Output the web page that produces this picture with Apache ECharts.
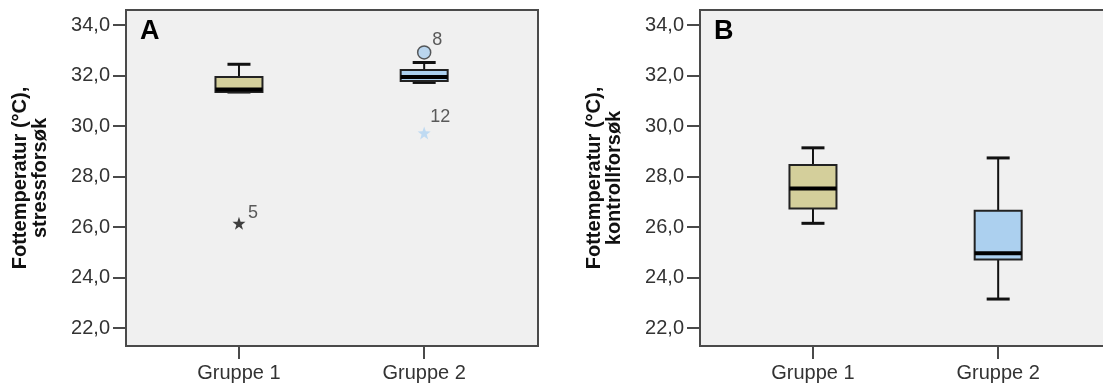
<!DOCTYPE html>
<html>
<head>
<meta charset="utf-8">
<script src="https://cdn.jsdelivr.net/npm/echarts@6/dist/echarts.min.js"></script>
<style>
  html, body { margin: 0; padding: 0; background: #ffffff; }
  #chart { width: 1103px; height: 392px; }
</style>
</head>
<body>
<div id="chart"></div>
<script>
// Groups shown on both panels
const groups = ['Gruppe 1', 'Gruppe 2'];
const yTicks = [22, 24, 26, 28, 30, 32, 34];

// Box statistics per group: [min whisker, Q1, median, Q3, max whisker]
const stressBox = [
  [31.35, 31.35, 31.45, 31.95, 32.45],
  [31.73, 31.79, 31.95, 32.22, 32.52]
];
const controlBox = [
  [26.15, 26.74, 27.53, 28.46, 29.14],
  [23.15, 24.72, 24.96, 26.65, 28.74]
];

// Outlying cases in the stress test: [group index (1-based), value, case number, kind]
const stressOutliers = [
  [1, 26.15, '5', 'extreme'],
  [2, 32.92, '8', 'outlier'],
  [2, 29.73, '12', 'extreme']
];

const panelLetters = ['A', 'B'];
const yTitles = ['Fottemperatur (°C),\nstressforsøk', 'Fottemperatur (°C),\nkontrollforsøk'];

const boxColors = ['#d4cf9b', '#acd0ef'];
const frameColor = '#4a4a4a';
const textColor = '#333333';
const font = 'Liberation Sans, Arial, sans-serif';

const STAR = 'path://M0,-10 L2.35,-3.24 L9.51,-3.09 L3.8,1.24 L5.88,8.09 L0,4 L-5.88,8.09 L-3.8,1.24 L-9.51,-3.09 L-2.35,-3.24 Z';

// Horizontal scale shared by both panels: 185.2 px per group step
const PX_PER_GROUP = 185.2;
const X_MIN = 0.39;
// Panel B runs past the right edge of the page, so its right frame line is not seen
const panels = [
  { left: 126, width: 412 },
  { left: 700, width: 412 }
];

function makeGrid(p) {
  return {
    left: p.left, top: 10, width: p.width, height: 336,
    show: true, backgroundColor: '#f0f0f0',
    borderColor: frameColor, borderWidth: 2,
    outerBoundsMode: 'none', containLabel: false
  };
}

function makeXAxis(gi) {
  return {
    type: 'value', gridIndex: gi, min: X_MIN, max: X_MIN + panels[gi].width / PX_PER_GROUP,
    splitLine: { show: false },
    axisLine: { show: false },
    axisTick: { show: true, customValues: [1, 2], length: 13, lineStyle: { color: frameColor, width: 2 } },
    axisLabel: {
      customValues: [1, 2], margin: 17,
      color: textColor, fontSize: 20, fontFamily: font,
      formatter: v => groups[Math.round(v) - 1] || ''
    }
  };
}

function makeYAxis(gi) {
  return {
    type: 'value', gridIndex: gi, min: 21.29, max: 34.6,
    splitLine: { show: false },
    axisLine: { show: false },
    axisTick: { show: true, customValues: yTicks, length: 13, lineStyle: { color: frameColor, width: 2 } },
    axisLabel: {
      customValues: yTicks, margin: 16,
      color: textColor, fontSize: 20, fontFamily: font,
      formatter: v => v.toFixed(1).replace('.', ',')
    },
    name: yTitles[gi], nameLocation: 'middle', nameGap: 76, nameRotate: 90,
    nameTextStyle: { fontSize: 20, fontWeight: 'bold', color: '#111', fontFamily: font, lineHeight: 20, align: 'center' }
  };
}

function renderBox(params, api) {
  const x = api.value(0);
  const lo = api.value(1), q1 = api.value(2), md = api.value(3), q3 = api.value(4), hi = api.value(5);
  const cx = api.coord([x, md])[0];
  const yLo = api.coord([x, lo])[1];
  const yQ1 = api.coord([x, q1])[1];
  const yMd = api.coord([x, md])[1];
  const yQ3 = api.coord([x, q3])[1];
  const yHi = api.coord([x, hi])[1];
  const hw = 23.5, cw = 11.5;
  const line = { stroke: '#111', lineWidth: 2 };
  return {
    type: 'group',
    children: [
      { type: 'line', shape: { x1: cx, y1: yHi, x2: cx, y2: yQ3 }, style: line },
      { type: 'line', shape: { x1: cx, y1: yLo, x2: cx, y2: yQ1 }, style: line },
      { type: 'line', shape: { x1: cx - cw, y1: yHi, x2: cx + cw, y2: yHi }, style: { stroke: '#111', lineWidth: 3 } },
      { type: 'line', shape: { x1: cx - cw, y1: yLo, x2: cx + cw, y2: yLo }, style: { stroke: '#111', lineWidth: 3 } },
      { type: 'rect', shape: { x: cx - hw, y: yQ3, width: 2 * hw, height: yQ1 - yQ3 },
        style: { fill: boxColors[x - 1], stroke: '#222', lineWidth: 2 } },
      { type: 'line', shape: { x1: cx - hw, y1: yMd, x2: cx + hw, y2: yMd }, style: { stroke: '#000', lineWidth: 4 } }
    ]
  };
}

function boxSeries(gi, stats) {
  return {
    type: 'custom', xAxisIndex: gi, yAxisIndex: gi,
    renderItem: renderBox,
    encode: { x: 0, y: [1, 2, 3, 4, 5] },
    data: stats.map((s, i) => [i + 1].concat(s)),
    z: 3
  };
}

const labelOffsets = { '5': [14, -10], '8': [13, -12], '12': [16, -16] };

const outlierSeries = {
  type: 'scatter', xAxisIndex: 0, yAxisIndex: 0, z: 5,
  data: stressOutliers.map(o => {
    const extreme = o[3] === 'extreme';
    return {
      value: [o[0], o[1]],
      symbol: extreme ? STAR : 'circle',
      symbolSize: 13,
      itemStyle: extreme
        ? { color: o[0] === 1 ? '#111' : '#b3d4f2', borderWidth: 0 }
        : { color: boxColors[1], borderColor: '#333', borderWidth: 1.5 },
      label: {
        show: true, formatter: o[2], position: 'inside',
        offset: labelOffsets[o[2]],
        color: textColor, fontSize: 18, fontFamily: font
      }
    };
  })
};

const option = {
  backgroundColor: '#ffffff',
  animation: false,
  grid: panels.map(makeGrid),
  xAxis: [makeXAxis(0), makeXAxis(1)],
  yAxis: [makeYAxis(0), makeYAxis(1)],
  graphic: panelLetters.map((t, i) => ({
    type: 'text', left: panels[i].left + 14, top: 18, z: 10,
    style: { text: t, fontSize: 27, fontWeight: 'bold', fill: '#000', fontFamily: font }
  })),
  series: [
    boxSeries(0, stressBox),
    boxSeries(1, controlBox),
    outlierSeries
  ]
};

const chart = echarts.init(document.getElementById('chart'), null, { renderer: 'canvas' });
chart.setOption(option);
</script>
</body>
</html>
